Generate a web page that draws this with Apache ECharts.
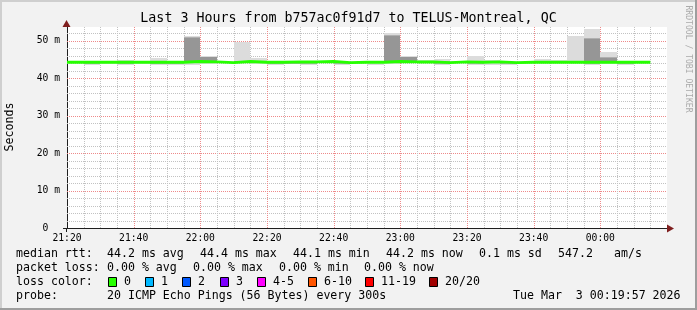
<!DOCTYPE html>
<html><head><meta charset="utf-8">
<script src="https://cdn.jsdelivr.net/npm/echarts@6/dist/echarts.min.js"></script>
<style>html,body{margin:0;padding:0;background:#f2f2f2}#c{width:697px;height:310px}</style>
</head><body><div id="c"></div>
<script>
// ---- data ----
const stepStarts = ['21:20','21:25','21:30','21:35','21:40','21:45','21:50','21:55','22:00','22:05',
  '22:10','22:15','22:20','22:25','22:30','22:35','22:40','22:45','22:50','22:55',
  '23:00','23:05','23:10','23:15','23:20','23:25','23:30','23:35','23:40','23:45',
  '23:50','23:55','00:00','00:05','00:10'];
const stepMinutes = 5;
const median = [44.2,44.2,44.2,44.2,44.2,44.2,44.2,44.4,44.3,44.1,44.4,44.2,44.2,44.3,44.3,44.4,44.1,44.2,44.2,44.4,
  44.3,44.3,44.1,44.3,44.2,44.3,44.1,44.2,44.2,44.2,44.2,44.2,44.2,44.2,44.2];
const pingMin = [43.9,43.6,43.7,43.5,43.8,43.6,43.4,43.5,43.8,43.9,43.9,43.8,43.4,43.7,43.6,44.0,43.6,43.9,43.6,43.8,
  44.0,44.0,43.4,44.0,43.4,43.6,43.6,43.9,43.9,43.9,43.9,43.6,43.8,43.4,43.9];
const pingMax = [44.4,44.4,44.4,44.8,44.6,45.3,44.5,51.2,45.8,44.4,49.7,45.3,44.6,44.5,44.5,44.6,44.4,44.4,44.4,51.9,
  45.8,44.7,45.2,44.5,46.0,44.8,44.3,44.4,45.0,44.9,51.3,53.1,46.9,44.5,44.4];
const p10 = [44.0,43.8,43.9,43.7,44.0,43.7,43.8,43.9,44.0,44.0,44.0,44.0,43.8,43.8,43.7,44.2,43.7,44.0,43.9,44.0,
  44.1,44.1,43.8,44.1,43.8,44.0,43.8,44.0,44.0,44.0,44.0,43.7,44.0,43.8,44.0];
const p90 = [44.3,44.3,44.3,44.5,44.3,44.5,44.3,51.0,45.6,44.2,44.6,44.4,44.3,44.4,44.4,44.5,44.2,44.3,44.3,51.5,
  45.6,44.6,44.5,44.4,44.5,44.6,44.2,44.3,44.4,44.4,44.6,50.8,45.5,44.3,44.3];
const p25 = [44.1,44.1,44.1,44.0,44.1,44.0,44.1,44.2,44.2,44.0,44.2,44.1,44.0,44.1,44.1,44.3,44.0,44.1,44.1,44.3,
  44.2,44.2,44.0,44.2,44.1,44.2,44.0,44.1,44.1,44.1,44.1,44.0,44.1,44.1,44.1];
const p75 = [44.3,44.3,44.3,44.3,44.3,44.3,44.3,50.8,45.5,44.2,44.5,44.3,44.3,44.4,44.4,44.5,44.2,44.3,44.3,51.1,
  45.5,44.5,44.2,44.4,44.3,44.4,44.2,44.3,44.3,44.3,44.3,50.5,45.3,44.3,44.3];
const xTickLabels = ['21:20','21:40','22:00','22:20','22:40','23:00','23:20','23:40','00:00'];
const yTickValues = [0,10,20,30,40,50];
const lossLabels = ['0','1','2','3','4-5','6-10','11-19','20/20'];
const lossColors = ['#26ff00','#00b8ff','#0059ff','#7e00ff','#ff00ff','#ff5500','#ff0000','#a10000'];

// ---- helpers ----
function toMin(s){ let [h,m]=s.split(':').map(Number); if(h<12) h+=24; return (h-21)*60+m-20; }
const startMin = stepStarts.map(toMin);
const MONO = '"DejaVu Sans Mono", monospace';
const X_MAX = 180, Y_MAX = 53.6;

function band(color, lo, hi, z){
  return {
    type:'custom', coordinateSystem:'cartesian2d', silent:true, z:z, animation:false, clip:true,
    data: startMin.map((t,i)=>[t, lo[i], hi[i]]),
    encode:{x:0, y:[1,2]},
    renderItem:(params, api)=>{
      const a = api.coord([api.value(0), api.value(2)]);
      const b = api.coord([api.value(0)+stepMinutes, api.value(1)]);
      const x0=Math.round(a[0]), x1=Math.round(b[0]), y0=Math.round(a[1]), y1=Math.round(b[1]);
      return {type:'rect', shape:{x:x0,y:y0,width:x1-x0,height:Math.max(y1-y0,0)}, style:{fill:color}};
    }
  };
}
const medianPts = startMin.map((t,i)=>[t, median[i]]);
medianPts.push([startMin[startMin.length-1]+stepMinutes, median[median.length-1]]);

// grid line positions (minor every 2 ms / 5 min, major every 10 ms / 20 min)
const hGrid = []; for(let v=2; v<Y_MAX; v+=2) hGrid.push(v);
const vGrid = []; for(let m=5; m<X_MAX; m+=5) vGrid.push(m);
const minorGrid = '#c2c2c2';
const majorGrid = '#ee8a8a';

const gridSeries = [
  {type:'custom', coordinateSystem:'cartesian2d', silent:true, z:1, animation:false,
    data: hGrid.map(v=>[0,v]), encode:{x:0,y:1},
    renderItem:(params, api)=>{
      const v = api.value(1); const cs = params.coordSys;
      const y = Math.round(api.coord([0,v])[1]) + 0.5;
      return {type:'line', shape:{x1:cs.x, y1:y, x2:cs.x+cs.width, y2:y},
        style:{stroke: (v%10===0)?majorGrid:minorGrid, lineWidth:1, lineDash:[1,1]}};
    }},
  {type:'custom', coordinateSystem:'cartesian2d', silent:true, z:1, animation:false,
    data: vGrid.map(m=>[m,0]), encode:{x:0,y:1},
    renderItem:(params, api)=>{
      const m = api.value(0); const cs = params.coordSys;
      const x = Math.round(api.coord([m,0])[0]) + 0.5;
      return {type:'line', shape:{x1:x, y1:cs.y, x2:x, y2:cs.y+cs.height},
        style:{stroke: (m%20===0)?majorGrid:minorGrid, lineWidth:1, lineDash:[1,1]}};
    }}
];

function txt(x,y,s,size,extra){
  return Object.assign({type:'text', x:x, y:y, silent:true,
    style:{text:s, font:size+'px '+MONO, fill:'#000', align:'left', verticalAlign:'middle'}}, extra||{});
}
const g = [];
g.push({type:'rect', shape:{x:0,y:0,width:697,height:2}, style:{fill:'#cfcfcf'}});
g.push({type:'rect', shape:{x:0,y:0,width:2,height:310}, style:{fill:'#cfcfcf'}});
g.push({type:'rect', shape:{x:695,y:0,width:2,height:310}, style:{fill:'#9e9e9e'}});
g.push({type:'rect', shape:{x:0,y:308,width:697,height:2}, style:{fill:'#9e9e9e'}});
g.push({type:'text', x:348.5, y:19, style:{text:'Last 3 Hours from b757ac0f91d7 to TELUS-Montreal, QC', font:'13.3px '+MONO, fill:'#000', align:'center', verticalAlign:'middle'}});
g.push({type:'text', x:10, y:127, rotation:Math.PI/2, style:{text:'Seconds', font:'11.6px '+MONO, fill:'#000', align:'center', verticalAlign:'middle'}});
g.push({type:'text', x:688, y:59, rotation:-Math.PI/2, style:{text:'RRDTOOL / TOBI OETIKER', font:'8.1px '+MONO, fill:'#ababab', align:'center', verticalAlign:'middle'}});
const F=11.6;
[[16,'median rtt:'],[107,'44.2 ms avg'],[200,'44.4 ms max'],[293,'44.1 ms min'],[386,'44.2 ms now'],[479,'0.1 ms sd'],[558,'547.2'],[614,'am/s']]
  .forEach(([x,s])=>g.push(txt(x,254,s,F)));
[[16,'packet loss:'],[107,'0.00 % avg'],[193,'0.00 % max'],[279,'0.00 % min'],[364,'0.00 % now']]
  .forEach(([x,s])=>g.push(txt(x,268,s,F)));
g.push(txt(16,282,'loss color:',F));
const boxX=[108,145,182,220,257,308,365,429];
lossLabels.forEach((l,i)=>{
  g.push({type:'rect', shape:{x:boxX[i]+0.5,y:277.5,width:8,height:9}, style:{fill:lossColors[i], stroke:'#000', lineWidth:1}});
  g.push(txt(boxX[i]+16,282,l,F));
});
g.push(txt(16,296,'probe:',F));
g.push(txt(107,296,'20 ICMP Echo Pings (56 Bytes) every 300s',F));
g.push(txt(513,296,'Tue Mar  3 00:19:57 2026',F));
// axis extensions and arrows
g.push({type:'line', shape:{x1:63,y1:228.5,x2:67,y2:228.5}, style:{stroke:'#1f1f1f',lineWidth:1}, z:10});
g.push({type:'line', shape:{x1:66.5,y1:228,x2:66.5,y2:232}, style:{stroke:'#1f1f1f',lineWidth:1}, z:10});
g.push({type:'polygon', shape:{points:[[667,224.5],[667,232.5],[674,228.5]]}, style:{fill:'#7f1f1f'}, z:10});
g.push({type:'polygon', shape:{points:[[62.5,27],[70.5,27],[66.5,20]]}, style:{fill:'#7f1f1f'}, z:10});

const chart = echarts.init(document.getElementById('c'), null, {renderer:'canvas'});
chart.setOption({
  animation:false,
  backgroundColor:'#f2f2f2',
  grid:{left:67, top:27, width:600, height:201, show:true, backgroundColor:'#ffffff', borderWidth:0, containLabel:false},
  xAxis:{type:'value', min:0, max:X_MAX, interval:20,
    axisLine:{show:true, onZero:false, lineStyle:{color:'#1f1f1f', width:1}},
    axisTick:{show:false},
    axisLabel:{margin:5, fontFamily:MONO, fontSize:9.7, color:'#000', showMaxLabel:false,
      formatter:(v)=>{ const k=v/20; return (k<xTickLabels.length)? xTickLabels[k] : ''; }},
    splitLine:{show:false}
  },
  yAxis:{type:'value', min:0, max:Y_MAX, interval:10,
    axisLine:{show:true, lineStyle:{color:'#1f1f1f', width:1}},
    axisTick:{show:false},
    axisLabel:{margin:7, fontFamily:MONO, fontSize:9.7, color:'#000', showMaxLabel:false,
      formatter:(v)=> yTickValues.indexOf(v)>=0 ? (v===0 ? '0  ' : v+' m') : ''},
    splitLine:{show:false}
  },
  graphic:g,
  series: gridSeries.concat([
    band('#dcdcdc', pingMin, pingMax, 2),
    band('#b0b0b0', p10, p90, 3),
    band('#969696', p25, p75, 4),
    {type:'line', data:medianPts, step:'end', showSymbol:false, symbol:'none', z:6, silent:true,
      lineStyle:{color:'#26ff00', width:3}}
  ])
});
</script></body></html>
